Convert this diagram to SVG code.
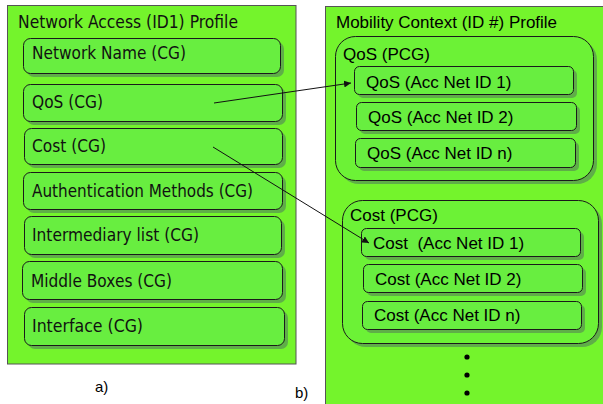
<svg xmlns="http://www.w3.org/2000/svg" width="603" height="404" viewBox="0 0 603 404">
<defs>
<style>
.outer{fill:#74f42c;stroke:#555;stroke-width:1}
.box{fill:#68ee40;stroke:#1a1a1a;stroke-width:1}
.sh{fill:#5fae48}
.pcg{fill:#6cf236;stroke:#1a1a1a;stroke-width:1}
.lt{font-family:"DejaVu Sans",Verdana,sans-serif;font-size:17px;fill:#111}
.rt{font-family:"Liberation Sans",Arial,sans-serif;font-size:17px;fill:#000;white-space:pre}
.lab{font-family:"Liberation Sans",Arial,sans-serif;font-size:15px;fill:#000}
.con{stroke:#111;stroke-width:1;fill:none}
</style>
<marker id="ah" viewBox="0 0 10 10" refX="10" refY="5" markerWidth="7" markerHeight="7" markerUnits="userSpaceOnUse" orient="auto">
<path d="M0,0 L10,5 L0,10 z" fill="#111"/>
</marker>
</defs>
<rect width="603" height="404" fill="#fff"/>

<g id="left-profile">
<rect class="outer" x="7.5" y="5.5" width="288.5" height="358.5"/>
<text class="lt" x="18" y="28" textLength="220" lengthAdjust="spacingAndGlyphs">Network Access (ID1) Profile</text>
</g>
<g id="ln-network-name">
<rect class="sh" x="27" y="42" width="257" height="35" rx="7"/>
<rect class="box" x="23.5" y="38.5" width="257" height="35" rx="7"/>
<text class="lt" x="32" y="59" textLength="154" lengthAdjust="spacingAndGlyphs">Network Name (CG)</text>
</g>
<g id="ln-qos">
<rect class="sh" x="27" y="88" width="259" height="37" rx="7"/>
<rect class="box" x="23.5" y="84.5" width="259" height="37" rx="7"/>
<text class="lt" x="32" y="108" textLength="71" lengthAdjust="spacingAndGlyphs">QoS (CG)</text>
</g>
<g id="ln-cost">
<rect class="sh" x="28" y="132" width="258" height="36" rx="7"/>
<rect class="box" x="24.5" y="128.5" width="258" height="36" rx="7"/>
<text class="lt" x="32" y="152" textLength="74" lengthAdjust="spacingAndGlyphs">Cost (CG)</text>
</g>
<g id="ln-auth">
<rect class="sh" x="27" y="176" width="259" height="37" rx="7"/>
<rect class="box" x="23.5" y="172.5" width="259" height="37" rx="7"/>
<text class="lt" x="32" y="197" textLength="221" lengthAdjust="spacingAndGlyphs">Authentication Methods (CG)</text>
</g>
<g id="ln-intermediary">
<rect class="sh" x="28" y="220" width="257" height="38" rx="7"/>
<rect class="box" x="24.5" y="216.5" width="257" height="38" rx="7"/>
<text class="lt" x="32" y="241" textLength="167" lengthAdjust="spacingAndGlyphs">Intermediary list (CG)</text>
</g>
<g id="ln-middle">
<rect class="sh" x="26" y="265" width="260" height="38" rx="7"/>
<rect class="box" x="22.5" y="261.5" width="260" height="38" rx="7"/>
<text class="lt" x="31" y="287" textLength="141" lengthAdjust="spacingAndGlyphs">Middle Boxes (CG)</text>
</g>
<g id="ln-interface">
<rect class="sh" x="28" y="311" width="260" height="38" rx="7"/>
<rect class="box" x="24.5" y="307.5" width="260" height="38" rx="7"/>
<text class="lt" x="32" y="332" textLength="111" lengthAdjust="spacingAndGlyphs">Interface (CG)</text>
</g>

<g id="right-profile">
<rect class="outer" x="325.5" y="6.5" width="290" height="410"/>
<text class="rt" x="336" y="28">Mobility Context (ID #) Profile</text>
</g>
<g id="qos-pcg">
<rect class="sh" x="339" y="40" width="258" height="144" rx="20"/>
<rect class="pcg" x="335.5" y="36.5" width="258" height="144" rx="20"/>
<text class="rt" x="343" y="60">QoS (PCG)</text>
</g>
<g id="qos-1">
<rect class="sh" x="358" y="70" width="219" height="28" rx="5"/>
<rect class="box" x="354.5" y="66.5" width="219" height="28" rx="5"/>
<text class="rt" x="366" y="88">QoS (Acc Net ID 1)</text>
</g>
<g id="qos-2">
<rect class="sh" x="360" y="106" width="220" height="28" rx="5"/>
<rect class="box" x="356.5" y="102.5" width="220" height="28" rx="5"/>
<text class="rt" x="368" y="123">QoS (Acc Net ID 2)</text>
</g>
<g id="qos-n">
<rect class="sh" x="359" y="142" width="220" height="29" rx="5"/>
<rect class="box" x="355.5" y="138.5" width="220" height="29" rx="5"/>
<text class="rt" x="367" y="159">QoS (Acc Net ID n)</text>
</g>
<g id="cost-pcg">
<rect class="sh" x="346" y="204" width="256" height="143" rx="20"/>
<rect class="pcg" x="342.5" y="200.5" width="256" height="143" rx="20"/>
<text class="rt" x="350" y="221">Cost (PCG)</text>
</g>
<g id="cost-1">
<rect class="sh" x="365" y="232" width="219" height="28" rx="5"/>
<rect class="box" x="361.5" y="228.5" width="219" height="28" rx="5"/>
<text class="rt" x="373" y="249">Cost  (Acc Net ID 1)</text>
</g>
<g id="cost-2">
<rect class="sh" x="367" y="268" width="219" height="28" rx="5"/>
<rect class="box" x="363.5" y="264.5" width="219" height="28" rx="5"/>
<text class="rt" x="375" y="285">Cost (Acc Net ID 2)</text>
</g>
<g id="cost-n">
<rect class="sh" x="366" y="305" width="219" height="28" rx="5"/>
<rect class="box" x="362.5" y="301.5" width="219" height="28" rx="5"/>
<text class="rt" x="374" y="321">Cost (Acc Net ID n)</text>
</g>
<g id="ellipsis">
<circle cx="467" cy="357" r="2.6" fill="#000"/>
<circle cx="467" cy="375" r="2.6" fill="#000"/>
<circle cx="467" cy="393" r="2.6" fill="#000"/>
</g>

<g id="connectors">
<path class="con" d="M214,103 L351,83" marker-end="url(#ah)"/>
<path class="con" d="M213,147 L369,243" marker-end="url(#ah)"/>
</g>

<text class="lab" x="95" y="392">a)</text>
<text class="lab" x="295" y="398">b)</text>
</svg>
